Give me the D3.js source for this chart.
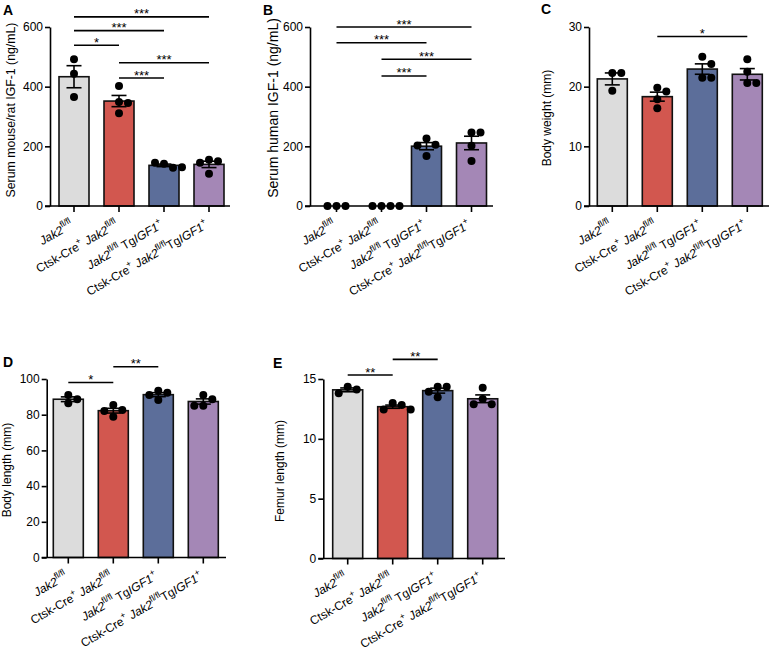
<!DOCTYPE html>
<html>
<head>
<meta charset="utf-8">
<script src="https://cdn.jsdelivr.net/npm/d3@7"></script>
<style>
  body { margin: 0; background: #fff; }
  svg { display: block; }
  text { font-family: "Liberation Sans", Arial, sans-serif; fill: #000; }
</style>
</head>
<body>
<svg id="fig" width="769" height="652"></svg>
<script>
// groups (same order in every panel)
const groups = ["Jak2fl/fl", "Ctsk-Cre+ Jak2fl/fl", "Jak2fl/fl TgIGF1+", "Ctsk-Cre+ Jak2fl/flTgIGF1+"];
const groupColors = ["#dcdcdc", "#d2574f", "#5c6e9a", "#a487b6"];

// individual animals
const mouseIgf1 = [[492, 443, 365], [402, 349, 311, 345], [142, 128, 145, 130], [155, 150, 108, 145]];
const humanIgf1 = [[0, 0, 0], [0, 0, 0, 0], [226, 205, 168, 203], [246, 246, 202, 151]];
const bodyWeight = [[22.3, 22.3, 19.3], [19.8, 19.2, 17.9, 16.4], [25.0, 23.8, 21.5, 21.5], [24.6, 22.5, 20.6, 20.6]];
const bodyLength = [[91.0, 88.6, 86.4], [85.4, 82.6, 82.1, 78.9], [93.4, 92.3, 91.0, 88.2], [91.0, 88.6, 85.0, 85.0]];
const femurLength = [[14.35, 14.13, 13.8], [13.0, 12.82, 12.46, 12.46], [14.35, 14.35, 13.94, 13.47], [14.27, 13.32, 12.9, 12.9]];

// tick values
const ticksIgf = [0, 200, 400, 600];
const ticksWeight = [0, 10, 20, 30];
const ticksLength = [0, 20, 40, 60, 80, 100];
const ticksFemur = [0, 5, 10, 15];

// significance: [from group, to group, height in data units, label]
const sigA = [[0, 3, 634, "***"], [0, 2, 588, "***"], [0, 1, 539, "*"], [1, 3, 480, "***"], [1, 2, 429, "***"]];
const sigB = [[0, 3, 600, "***"], [0, 2, 547, "***"], [1, 3, 492, "***"], [1, 2, 436, "***"]];
const sigC = [[1, 3, 28.4, "*"]];
const sigD = [[0, 1, 98, "*"], [1, 2, 106.9, "**"]];
const sigE = [[0, 1, 15.33, "**"], [1, 2, 16.64, "**"]];

const svg = d3.select("#fig");

const panels = [
  {letter: "A", lx: 3, ly: 15, ax: 50, y0: 206, yTop: 27, xEnd: 230, off: 9, dom: [0, 600], ticks: ticksIgf,
   label: "Serum mouse/rat IGF-1 (ng/mL)", labX: 14.5, labY: 110, labSize: 12.3, vals: mouseIgf1, sig: sigA},
  {letter: "B", lx: 263, ly: 15, ax: 310, y0: 206, yTop: 27, xEnd: 493, off: 11.5, dom: [0, 600], ticks: ticksIgf,
   label: "Serum human IGF-1 (ng/mL)", labX: 278, labY: 108, labSize: 14, vals: humanIgf1, sig: sigB},
  {letter: "C", lx: 541, ly: 14, ax: 589, y0: 206, yTop: 27, xEnd: 769, off: 8.3, dom: [0, 30], ticks: ticksWeight,
   label: "Body weight (mm)", labX: 551, labY: 118, labSize: 12, vals: bodyWeight, sig: sigC},
  {letter: "D", lx: 3, ly: 367, ax: 46.7, y0: 557.5, yTop: 379, xEnd: 226, off: 6.6, dom: [0, 100], ticks: ticksLength,
   label: "Body length (mm)", labX: 11, labY: 470, labSize: 12, vals: bodyLength, sig: sigD},
  {letter: "E", lx: 273, ly: 368, ax: 323.3, y0: 558.5, yTop: 379, xEnd: 505, off: 9.4, dom: [0, 15], ticks: ticksFemur,
   label: "Femur length (mm)", labX: 284, labY: 471, labSize: 12, vals: femurLength, sig: sigE}
];

// italic gene names, superscript genotypes
function richLabel(t, str) {
  const parts = str.split(/(Jak2|IGF1|fl\/fl|\+)/).filter(s => s);
  let up = false;
  parts.forEach(p => {
    const sup = p === "fl/fl" || p === "+";
    const ts = t.append("tspan").text(p);
    if (p === "Jak2" || p === "IGF1") ts.style("font-style", "italic");
    if (sup) ts.attr("font-size", 8.7);
    if (sup && !up) ts.attr("dy", -5.5);
    if (!sup && up) ts.attr("dy", 5.5);
    up = sup;
  });
}

// simple deterministic swarm so dots do not overlap
function swarm(vals, y, r) {
  const placed = [];
  return vals.map(v => {
    const py = y(v);
    for (const k of [0, 1, -1, 2, -2, 3, -3]) {
      const dx = k * (2 * r + 1);
      if (placed.every(p => Math.hypot(p.dx - dx, p.py - py) >= 2 * r)) {
        placed.push({dx, py});
        return {dx, py};
      }
    }
    return {dx: 0, py};
  });
}

panels.forEach(function(p) {
  const g = svg.append("g");

  const x = d3.scaleBand()
      .domain(groups)
      .range([p.ax + p.off - 7.5, p.ax + p.off - 7.5 + 180])
      .paddingInner(1 / 3)
      .paddingOuter(1 / 6);
  const y = d3.scaleLinear().domain(p.dom).range([p.y0, p.yTop]);

  const stats = p.vals.map(v => {
    const m = d3.mean(v);
    const sem = v.length > 1 ? d3.deviation(v) / Math.sqrt(v.length) : 0;
    return {m, sem};
  });

  // bars
  g.selectAll("rect.bar").data(groups).join("rect")
      .attr("class", "bar")
      .attr("x", d => x(d))
      .attr("width", x.bandwidth())
      .attr("y", (d, i) => y(stats[i].m))
      .attr("height", (d, i) => p.y0 - y(stats[i].m))
      .attr("fill", (d, i) => groupColors[i])
      .attr("stroke", "#111")
      .attr("stroke-width", 1.6);

  // error bars (mean +/- SEM)
  groups.forEach((d, i) => {
    const cx = x(d) + x.bandwidth() / 2;
    const s = stats[i];
    if (s.sem <= 0) return;
    const eg = g.append("g").attr("stroke", "#000").attr("stroke-width", 1.6);
    eg.append("line").attr("x1", cx).attr("x2", cx).attr("y1", y(s.m + s.sem)).attr("y2", y(s.m - s.sem));
    [s.m + s.sem, s.m - s.sem].forEach(v => {
      eg.append("line").attr("x1", cx - 7.5).attr("x2", cx + 7.5).attr("y1", y(v)).attr("y2", y(v));
    });
  });

  // dots
  groups.forEach((d, i) => {
    const cx = x(d) + x.bandwidth() / 2;
    g.append("g").selectAll("circle").data(swarm(p.vals[i], y, 4)).join("circle")
        .attr("cx", s => cx + s.dx)
        .attr("cy", s => s.py)
        .attr("r", 4)
        .attr("fill", "#000");
  });

  // y axis
  const ya = g.append("g").attr("transform", `translate(${p.ax},0)`)
      .call(d3.axisLeft(y).tickValues(p.ticks).tickSize(5).tickSizeOuter(0).tickPadding(2));
  ya.select(".domain").attr("stroke", "#000").attr("stroke-width", 1.6);
  ya.selectAll(".tick line").attr("stroke", "#000").attr("stroke-width", 1.6);
  ya.selectAll(".tick text").attr("font-size", 12).attr("font-family", "Liberation Sans, Arial, sans-serif").attr("fill", "#000");

  // x axis baseline and ticks
  g.append("line").attr("x1", p.ax - 5).attr("x2", p.xEnd).attr("y1", p.y0).attr("y2", p.y0)
      .attr("stroke", "#000").attr("stroke-width", 1.6);
  groups.forEach(d => {
    const cx = x(d) + x.bandwidth() / 2;
    g.append("line").attr("x1", cx).attr("x2", cx).attr("y1", p.y0).attr("y2", p.y0 + 6)
        .attr("stroke", "#000").attr("stroke-width", 1.6);
    const t = g.append("text")
        .attr("transform", `translate(${cx},${p.y0 + 21}) rotate(-30)`)
        .attr("text-anchor", "end")
        .attr("font-size", 12);
    richLabel(t, d);
  });

  // significance bars
  p.sig.forEach(s => {
    const x1 = x(groups[s[0]]) + x.bandwidth() / 2;
    const x2 = x(groups[s[1]]) + x.bandwidth() / 2;
    const yy = y(s[2]);
    g.append("line").attr("x1", x1).attr("x2", x2).attr("y1", yy).attr("y2", yy)
        .attr("stroke", "#000").attr("stroke-width", 1.6);
    g.append("text").attr("x", (x1 + x2) / 2).attr("y", yy + 1.5)
        .attr("text-anchor", "middle").attr("font-size", 13).text(s[3]);
  });

  // y label
  g.append("text")
      .attr("transform", `translate(${p.labX},${p.labY}) rotate(-90)`)
      .attr("text-anchor", "middle")
      .attr("font-size", p.labSize)
      .text(p.label);

  // panel letter
  g.append("text").attr("x", p.lx).attr("y", p.ly)
      .attr("font-size", 14).attr("font-weight", "bold").text(p.letter);
});
</script>
</body>
</html>
